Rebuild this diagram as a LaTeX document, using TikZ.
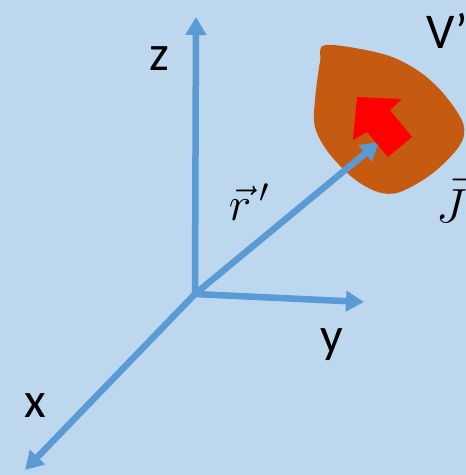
\RequirePackage{fix-cm}
\documentclass[tikz,border=0pt]{standalone}
\usepackage{fontspec}
\setmainfont{Carlito}
\usetikzlibrary{arrows.meta}
\definecolor{bgblue}{RGB}{189,215,238}
\definecolor{axisblue}{RGB}{91,155,213}
\definecolor{blobbrown}{RGB}{197,90,17}
\tikzset{
  axis/.style={axisblue,line width=6.5pt,-{Triangle[length=18pt,width=20pt]}},
  lbl/.style={font=\fontsize{50}{50}\selectfont,inner sep=0pt},
  mlbl/.style={font=\fontsize{48}{48}\selectfont,inner sep=0pt},
}

\begin{document}
\begin{tikzpicture}[x=1pt,y=-1pt]
\fill[bgblue] (0,0) rectangle (466,475);
\useasboundingbox (0,0) rectangle (466,475);
% volume V'
\fill[blobbrown] plot[smooth cycle,tension=0.55] coordinates {
  (326,45) (383,54) (417,70) (443,93) (463,123) (460,145) (433,173)
  (400,192) (378,192) (353,178) (328,152) (315,127) (315,100) (320,62)};
% axes and position vector
\coordinate (O) at (195,294);
\coordinate (zT) at (196,17);
\coordinate (yT) at (364,302);
\coordinate (xT) at (25,470);
\coordinate (rT) at (379,142);
\draw[axis] (O) -- (zT);
\draw[axis] (O) -- (yT);
\draw[axis] (O) -- (xT);
\draw[axis] (O) -- (rT);
% current density
\fill[red] (357,97) -- (402,99) -- (390,110) -- (412,137) -- (388,157)
  -- (367,132) -- (353,140) -- cycle;
% labels
\node[lbl,anchor=base] (lblz) at (159,70) {z};
\node[lbl,anchor=base] (lbly) at (332,352) {y};
\node[lbl,anchor=base] (lblx) at (35,417) {x};
\node[lbl,anchor=base west] (lblV) at (426,48) {V’};
\node[mlbl,anchor=base] (lblr) at (249,220) {$\vec{r}\,'$};
\node[mlbl,anchor=base west] (lblJ) at (436,222) {$\vec{J}$};
\end{tikzpicture}
\end{document}
